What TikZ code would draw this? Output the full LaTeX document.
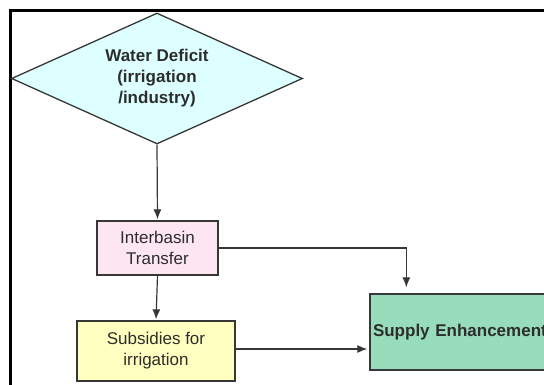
\documentclass[tikz,border=0pt]{standalone}
\usepackage{fontspec}
\setmainfont{Liberation Sans}
\usetikzlibrary{shapes.geometric,arrows.meta}
\definecolor{deficitfill}{RGB}{222,255,255}
\definecolor{transferfill}{RGB}{253,230,242}
\definecolor{subsidyfill}{RGB}{255,255,192}
\definecolor{supplyfill}{RGB}{152,221,187}
\definecolor{edgegray}{RGB}{55,55,55}
\definecolor{textgray}{RGB}{45,45,45}
\tikzset{
  flowbox/.style={draw=edgegray, line width=1.3pt, rectangle, inner sep=0pt,
    align=center, text=textgray, font=\fontsize{17}{21}\selectfont},
  decision/.style={draw=edgegray, line width=1.3pt, diamond, inner sep=0pt,
    aspect=2.22, minimum width=291pt, minimum height=131pt, fill=deficitfill,
    align=center, text=textgray, font=\fontsize{17}{21}\selectfont\bfseries},
  flowarrow/.style={draw=edgegray, line width=1.2pt,
    -{Latex[length=10pt,width=8pt]}},
}
\begin{document}
\begin{tikzpicture}[x=1pt,y=-1pt]
  \useasboundingbox (0,0) rectangle (544,385);
  \clip (0,0) rectangle (544,385);
  % page frame
  \draw[line width=2.5pt, black] (10.5,400) -- (10.5,10.5) -- (560,10.5);

  \node[decision] (wd) at (157,78.5) {Water Deficit\\(irrigation\\/industry)};
  \node[flowbox, fill=transferfill, minimum width=121pt, minimum height=54pt]
    (ib) at (157.5,248) {Interbasin\\Transfer};
  \node[flowbox, fill=subsidyfill, minimum width=158pt, minimum height=60pt]
    (sub) at (156,351) {Subsidies for\\irrigation};
  \node[flowbox, fill=supplyfill, minimum height=76pt, text width=194pt,
    inner xsep=3pt, align=left, font=\fontsize{17}{21}\selectfont\bfseries]
    (se) at (470,332) {Supply Enhancement};

  \draw[flowarrow, shorten >=1pt] (wd.south) -- (ib.north);
  \draw[flowarrow, shorten >=6pt] (ib.east) -| ([xshift=37pt]se.north west);
  \draw[flowarrow, shorten >=1pt] (ib.south) -- (sub.north);
  \draw[flowarrow, shorten >=2pt] ([yshift=2pt]sub.east) -- ([yshift=2pt]sub.east -| se.west);
\end{tikzpicture}
\end{document}
